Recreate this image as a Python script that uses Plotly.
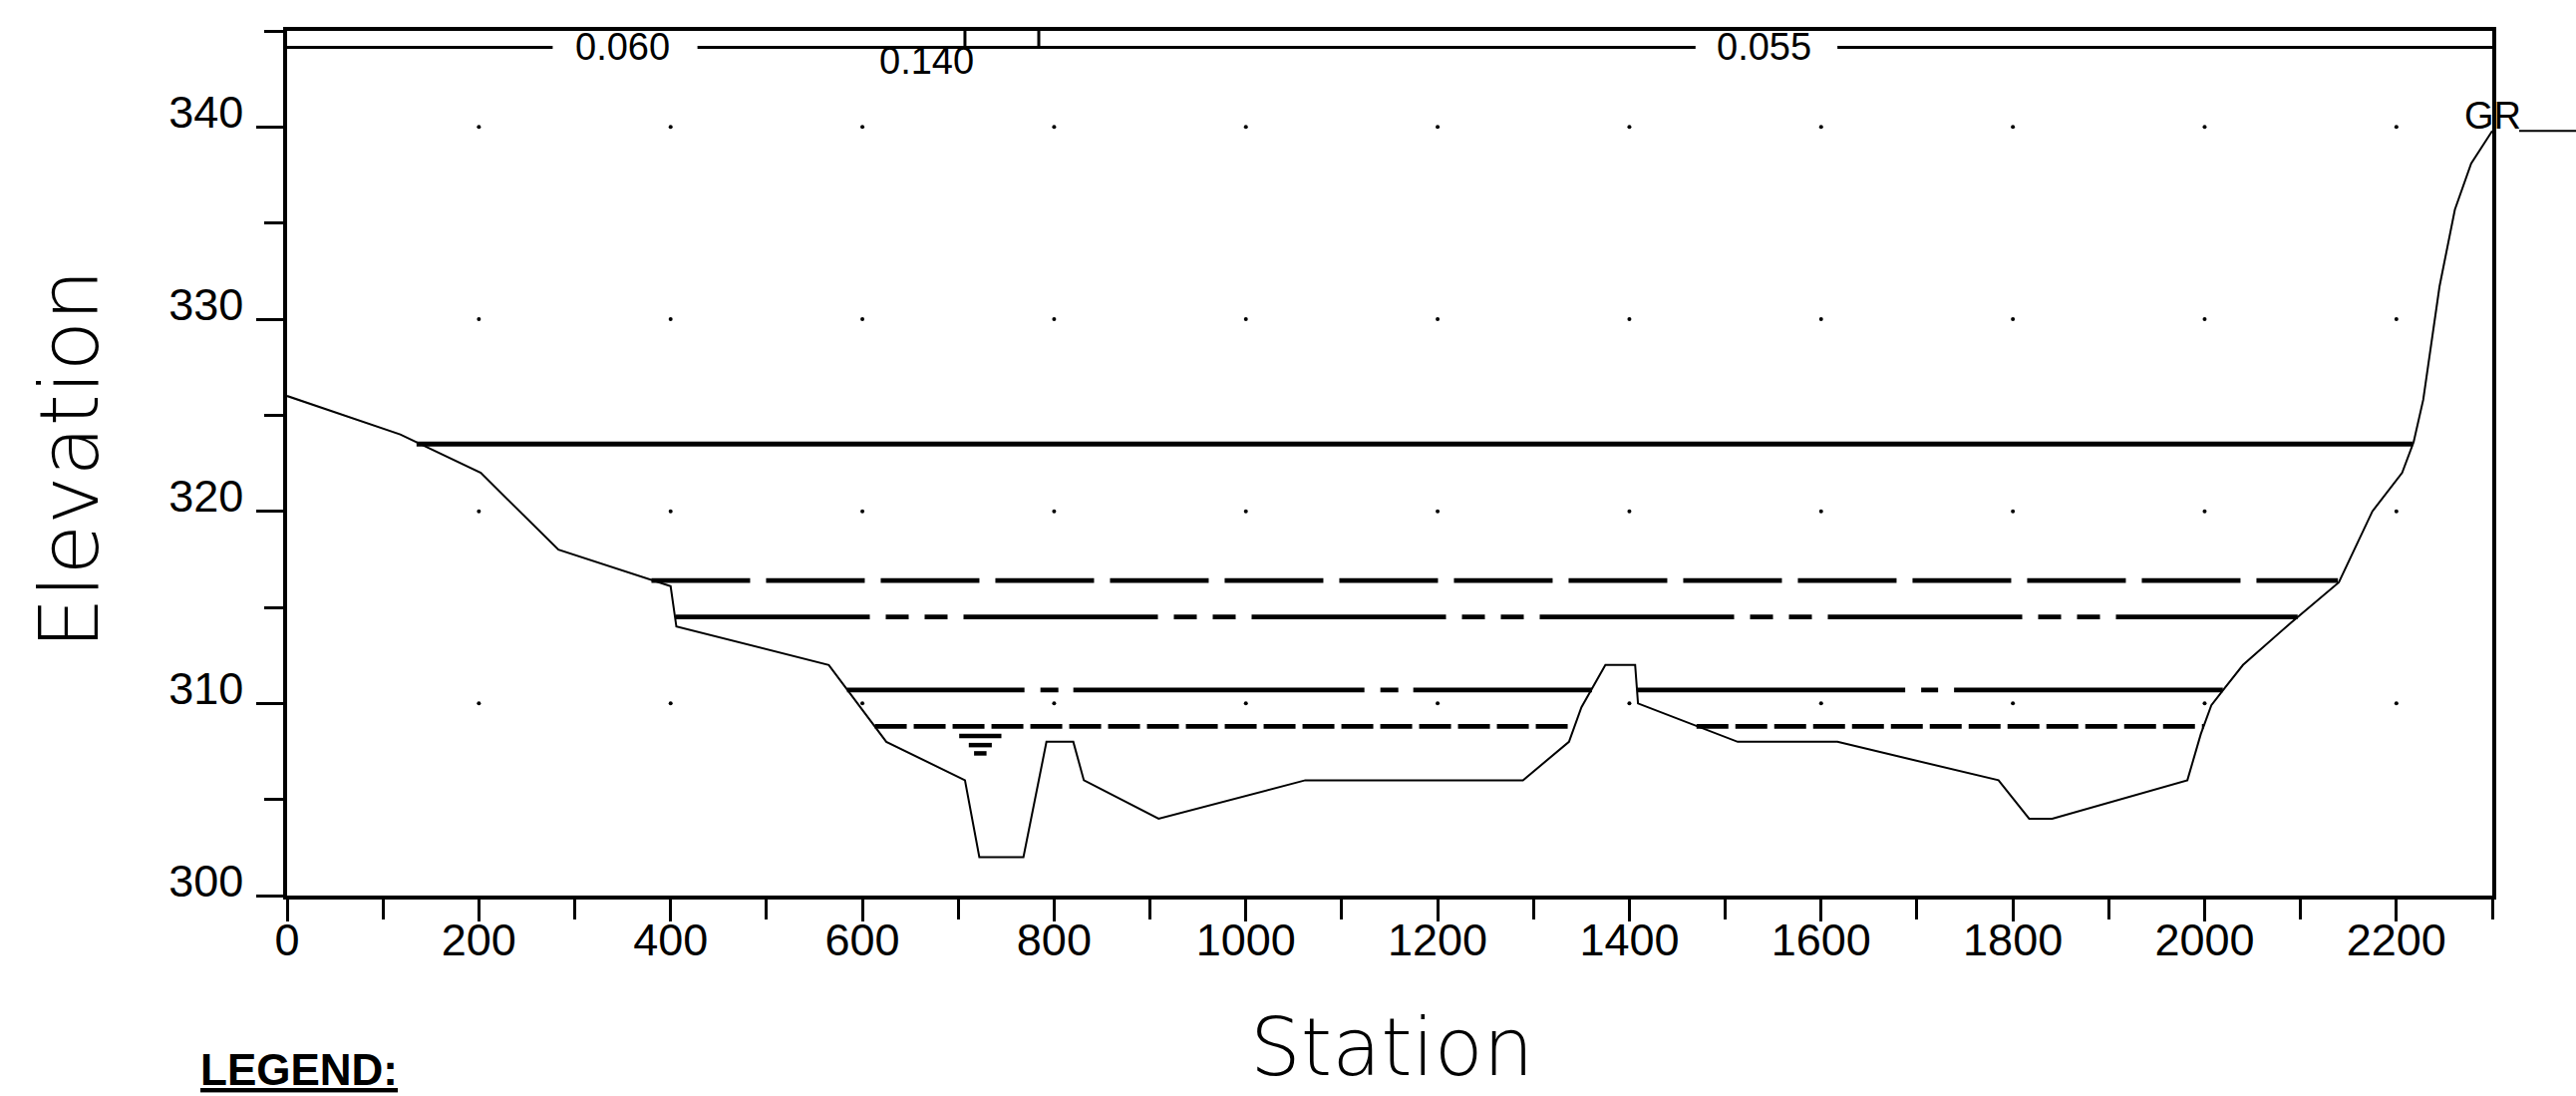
import numpy as np
import plotly.graph_objects as go

# ---------------- data ----------------
# Ground profile (GR)
gr_station = [0, 118, 202, 283, 400, 406, 565, 625, 707, 722, 768, 792, 820, 831, 909,
              1062, 1289, 1337, 1350, 1375, 1406, 1409, 1513, 1617, 1785, 1817, 1841,
              1982, 1996, 2007, 2021, 2040, 2090, 2140, 2175, 2206, 2218, 2228, 2245,
              2261, 2278, 2300]
gr_elev = [326.0, 324.0, 322.0, 318.0, 316.1, 314.0, 312.0, 308.0, 306.0, 302.0, 302.0,
           308.0, 308.0, 306.0, 304.0, 306.0, 306.0, 308.0, 309.8, 312.0, 312.0, 310.0,
           308.0, 308.0, 306.0, 304.0, 304.0, 306.0, 308.4, 309.9, 310.8, 312.0, 314.2,
           316.3, 320.0, 322.0, 323.6, 325.8, 331.7, 335.7, 338.1, 339.8]

# Water surface profiles: elevation and wetted segments (start, end station)
ws_elev = [323.5, 316.4, 314.5, 310.7, 308.8]
ws_segments = [
    [(135, 2217)],
    [(380, 2139)],
    [(405, 2097)],
    [(584, 1361), (1408, 2019)],
    [(613, 1343), (1470, 1999)],
]

# Manning's n values along the section
n_values = ["0.060", "0.140", "0.055"]
n_label_station = [350, 667, 1540]
n_line_elev = 344.15
n_line_segments = [(0, 277), (428, 1469), (1617, 2300)]
bank_stations = [707, 784]

# Axis ticks
x_major = list(range(0, 2201, 200))
y_major = [300, 310, 320, 330, 340]
x_range = [0, 2300]
y_range = [300, 345]

# grid dots (interior intersections)
dot_x = [200, 400, 600, 800, 1000, 1200, 1400, 1600, 1800, 2000, 2200]
dot_y = [310, 320, 330, 340]

ws_symbol_station = 723

# ---------------- layout geometry ----------------
W, H = 2584, 1099
L, R, T, B = 288, 84, 31, 201
PW, PH = W - L - R, H - T - B


def px_x(p):
    return (p - L) / PW


def px_y(p):
    return (H - B - p) / PH


fig = go.Figure()

# ground
fig.add_trace(go.Scatter(x=gr_station, y=gr_elev, mode="lines",
                         line=dict(color="black", width=2), name="Ground",
                         hoverinfo="skip"))

ws_dashes = [
    ["solid"],
    ["99px,16px"],
    ["195px,16px,23px,16px,23px,16px"],
    ["178px,16px,18px,15px,292px,16px,18px,15px,900px",
     "269px,16px,17px,16px,900px"],
    ["32px,7px", "32px,7px"],
]
for i, (elev, segs) in enumerate(zip(ws_elev, ws_segments)):
    for j, (s0, s1) in enumerate(segs):
        fig.add_trace(go.Scatter(x=[s0, s1], y=[elev, elev], mode="lines",
                                 line=dict(color="black", width=4.8,
                                           dash=ws_dashes[i][j]),
                                 name=f"WS {i+1}", hoverinfo="skip"))

# Manning's n line
nx, ny = [], []
for s0, s1 in n_line_segments:
    nx += [s0, s1, None]
    ny += [n_line_elev, n_line_elev, None]
fig.add_trace(go.Scatter(x=nx, y=ny, mode="lines",
                         line=dict(color="black", width=3), hoverinfo="skip"))

# grid dots
gx, gy = np.meshgrid(dot_x, dot_y)
fig.add_trace(go.Scatter(x=gx.ravel(), y=gy.ravel(), mode="markers",
                         marker=dict(color="black", size=4), hoverinfo="skip"))

shapes = []
# bank station ticks
for b in bank_stations:
    shapes.append(dict(type="line", xref="x", yref="y", x0=b, x1=b,
                       y0=n_line_elev, y1=y_range[1],
                       line=dict(color="black", width=3)))
# water surface symbol under the lowest profile
ws_low = ws_elev[-1]
for dy, half in [(0.5, 22), (0.97, 12), (1.4, 6.5)]:
    shapes.append(dict(type="line", xref="x", yref="y",
                       x0=ws_symbol_station - half, x1=ws_symbol_station + half,
                       y0=ws_low - dy, y1=ws_low - dy,
                       line=dict(color="black", width=4.5)))
# GR label leader line
shapes.append(dict(type="line", xref="paper", yref="y",
                   x0=px_x(2527), x1=px_x(2590), y0=gr_elev[-1], y1=gr_elev[-1],
                   line=dict(color="black", width=2)))

annotations = []
# Manning's labels
n_label_elev = [n_line_elev, 343.44, n_line_elev]
for txt, st, el in zip(n_values, n_label_station, n_label_elev):
    annotations.append(dict(x=st, y=el, xref="x", yref="y", text=txt,
                            showarrow=False, xanchor="center", yanchor="middle",
                            font=dict(family="Liberation Sans", size=38, color="black")))
# GR label
annotations.append(dict(x=x_range[1], y=gr_elev[-1], xref="x", yref="y", text="GR",
                        showarrow=False, xanchor="center", yanchor="bottom", yshift=-8,
                        font=dict(family="Liberation Sans", size=38, color="black")))
# axis titles
title_font = dict(family="DejaVu Sans", size=82, color="black", weight=200)
annotations.append(dict(x=px_x(69), y=px_y(461), xref="paper", yref="paper",
                        text="Elevation", textangle=-90, showarrow=False,
                        xanchor="center", yanchor="middle", font=title_font))
annotations.append(dict(x=px_x(1396), y=px_y(1050), xref="paper", yref="paper",
                        text="Station", showarrow=False,
                        xanchor="center", yanchor="middle",
                        font=dict(family="DejaVu Sans", size=80, color="black",
                                  weight=200)))
# legend heading
annotations.append(dict(x=px_x(199), y=px_y(1099), xref="paper", yref="paper",
                        text="<u>LEGEND:</u>", showarrow=False,
                        xanchor="left", yanchor="bottom",
                        font=dict(family="Liberation Sans", size=44, color="black",
                                  weight="bold")))

tick_font = dict(family="Liberation Sans", size=45, color="black")
fig.update_layout(
    width=W, height=H,
    margin=dict(l=L, r=R, t=T, b=B, pad=0),
    paper_bgcolor="white", plot_bgcolor="white",
    showlegend=False,
    shapes=shapes, annotations=annotations,
    xaxis=dict(range=x_range, tickvals=x_major, ticks="outside", ticklen=22,
               tickwidth=3, tickcolor="black", showline=True, linewidth=3.5,
               linecolor="black", mirror=True, showgrid=False, zeroline=False,
               tickfont=tick_font, ticklabelstandoff=-20,
               minor=dict(dtick=100, tick0=0, ticks="outside", ticklen=20,
                          tickwidth=3, tickcolor="black", showgrid=False)),
    yaxis=dict(range=y_range, tickvals=y_major, ticks="outside", ticklen=27,
               tickwidth=3, tickcolor="black", showline=True, linewidth=3.5,
               linecolor="black", mirror=True, showgrid=False, zeroline=False,
               tickfont=tick_font, ticklabelstandoff=4, ticklabelshift=-15,
               minor=dict(dtick=5, tick0=300, ticks="outside", ticklen=19,
                          tickwidth=3, tickcolor="black", showgrid=False)),
)

fig.write_html("out.html", config={"displayModeBar": False},
               post_script="document.body.style.margin='0';document.body.style.overflow='hidden';")
